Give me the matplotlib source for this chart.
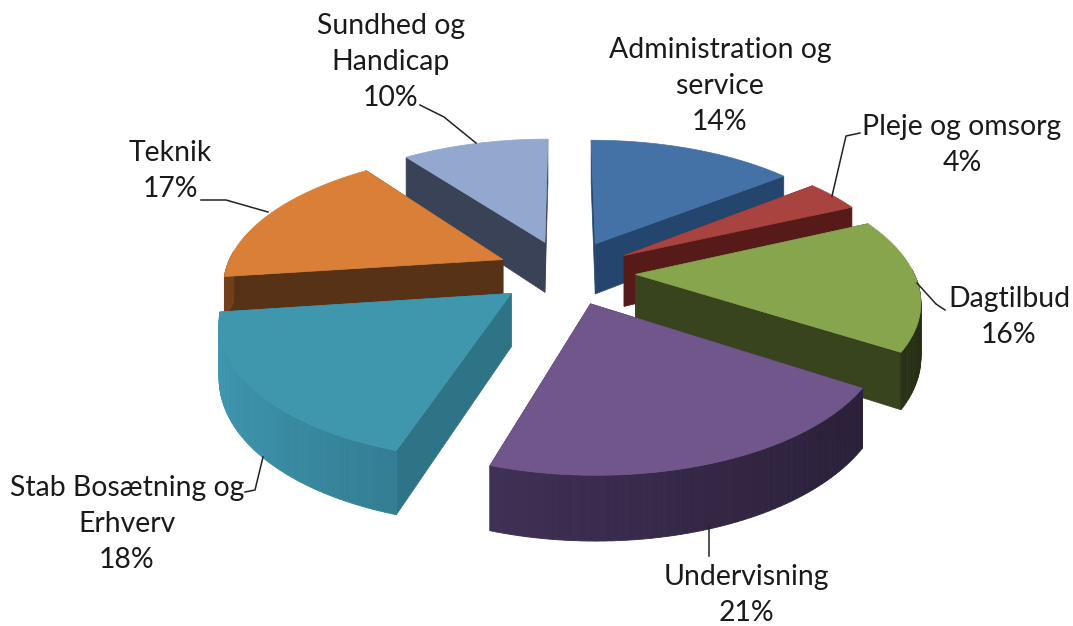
import numpy as np
import matplotlib
matplotlib.use("Agg")
import matplotlib.pyplot as plt
from matplotlib.patches import Polygon

W, H = 1073, 626

names = ["Administration og\nservice", "Pleje og omsorg", "Dagtilbud", "Undervisning",
         "Stab Bosætning og\nErhverv", "Teknik", "Sundhed og\nHandicap"]
shares = [14.4, 3.8, 15.9, 20.8, 18.0, 16.9, 10.2]
top_colors = ["#4471A6", "#A8433F", "#87A54D", "#71568C", "#3F97AE", "#D97F38", "#92A8CE"]
wall_colors = ["#24466E", "#561B19", "#37441E", "#3A2C4E", "#2F7386", "#573216", "#3A4258"]
label_pos = [(720, 86), (962, 145), (1009, 317), (746, 595), (127, 524), (170, 171), (391, 62)]
leaders = [None,
           [(860, 133), (846, 136), (832, 196)],
           [(945, 310), (936, 304), (917, 283)],
           [(709, 556), (709, 526)],
           [(245, 492), (255, 490), (263, 457)],
           [(201, 200), (226, 200), (268, 212)],
           [(420, 105), (444, 117), (476, 143)]]

CX, CY = 566, 272
RX, RY = 278, 130
PERSP, THICK, EXPLODE = 0.17, 52, 0.25


def project(x, y, z):
    s = 1 / (1 + PERSP * y)
    return CX + RX * s * x, CY - s * (RY * y + z)


def shade(color, f):
    c = np.array(matplotlib.colors.to_rgb(color))
    return tuple(np.clip(c * f, 0, 1))


def draw_wedge(ax, a0, a1, top_c, wall_c):
    mid = (a0 + a1) / 2
    ox, oy = EXPLODE * np.sin(mid), EXPLODE * np.cos(mid)
    t = np.linspace(a0, a1, 60)
    xs, ys = ox + np.sin(t), oy + np.cos(t)

    # radial walls first, the front faces paint over whatever is hidden
    for a in (a0, a1):
        ex, ey = ox + np.sin(a), oy + np.cos(a)
        quad = [project(ox, oy, 0), project(ex, ey, 0), project(ex, ey, -THICK), project(ox, oy, -THICK)]
        ax.add_patch(Polygon(quad, fc=wall_c, ec=wall_c, lw=0.5))

    # outer wall in strips, shaded by direction of the surface
    order = np.argsort(-ys[:-1])
    for i in order:
        if np.cos(t[i]) > 0.05:
            continue
        quad = [project(xs[i], ys[i], 0), project(xs[i + 1], ys[i + 1], 0),
                project(xs[i + 1], ys[i + 1], -THICK), project(xs[i], ys[i], -THICK)]
        f = 1.0 - 0.32 * np.sin(t[i])
        c = shade(wall_c, f)
        ax.add_patch(Polygon(quad, fc=c, ec=c, lw=0.6))

    top = [project(ox, oy, 0)] + [project(x, y, 0) for x, y in zip(xs, ys)]
    ax.add_patch(Polygon(top, fc=top_c, ec=top_c, lw=0.5))


def main():
    fig = plt.figure(figsize=(W / 100, H / 100), dpi=100)
    ax = fig.add_axes([0, 0, 1, 1])
    ax.set_xlim(0, W)
    ax.set_ylim(H, 0)
    ax.axis("off")

    edges = np.radians(np.cumsum([0] + shares) * 3.6)
    mids = (edges[:-1] + edges[1:]) / 2
    # far wedges first
    for i in np.argsort(-np.cos(mids)):
        draw_wedge(ax, edges[i], edges[i + 1], top_colors[i], wall_colors[i])

    for name, share, pos, line in zip(names, shares, label_pos, leaders):
        ax.text(pos[0], pos[1], f"{name}\n{share:.0f}%", ha="center", va="center",
                family="Lato", fontsize=20.4, color="#1a1a1a", linespacing=1.47)
        if line:
            ax.plot(*zip(*line), color="#222222", lw=1.1)

    fig.savefig("out.png", dpi=100)


if __name__ == "__main__":
    main()
